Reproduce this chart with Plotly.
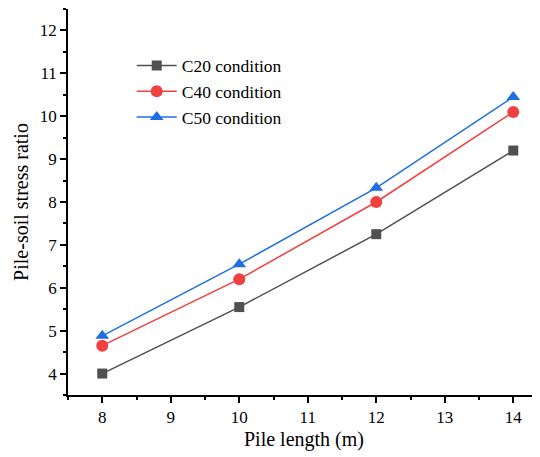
import plotly.graph_objects as go

pile_length = [8, 10, 12, 14]
c20 = [4.0, 5.55, 7.25, 9.2]
c40 = [4.65, 6.2, 8.0, 10.1]
c50 = [4.88, 6.55, 8.33, 10.45]
names = ["C20 condition", "C40 condition", "C50 condition"]

fig = go.Figure()
styles = [("#505050", "square", 10), ("#f04040", "circle", 12), ("#1f6fe2", "triangle-up", 12)]
for name, ys, (col, sym, sz) in zip(names, [c20, c40, c50], styles):
    fig.add_trace(go.Scatter(x=pile_length, y=ys, name=name, mode="lines+markers",
                             line=dict(color=col, width=1.5),
                             marker=dict(symbol=sym, size=sz, color=col)))

font = "Times New Roman, Liberation Serif, serif"
fig.update_layout(
    width=532, height=449,
    margin=dict(l=60, r=0, t=1, b=62, autoexpand=False),
    plot_bgcolor="white", paper_bgcolor="white",
    font=dict(family=font, color="black", size=17),
    showlegend=True,
    legend=dict(x=0.135, y=0.9, xanchor="left", yanchor="top",
                bgcolor="rgba(0,0,0,0)", font=dict(size=17.5, family=font),
                tracegroupgap=0, itemwidth=40),
)
fig.update_xaxes(range=[7.5, 14.39], tickmode="array", tickvals=[8, 9, 10, 11, 12, 13, 14],
                 showline=True, linecolor="black", linewidth=1.5, showgrid=False, zeroline=False,
                 ticks="outside", ticklen=6, tickwidth=1.5, tickcolor="black", automargin=False,
                 minor=dict(ticks="outside", ticklen=3, tickwidth=1.5, tickcolor="black", dtick=0.5, tick0=7.5),
                 title=dict(text="Pile length (m)", font=dict(size=20, family=font), standoff=6),
                 tickfont=dict(size=17, family=font))
fig.update_yaxes(range=[3.5, 12.5], tickmode="array", tickvals=[4, 5, 6, 7, 8, 9, 10, 11, 12],
                 showline=True, linecolor="black", linewidth=1.5, showgrid=False, zeroline=False,
                 ticks="outside", ticklen=6, tickwidth=1.5, tickcolor="black", automargin=False,
                 minor=dict(ticks="outside", ticklen=3, tickwidth=1.5, tickcolor="black", dtick=0.5, tick0=3.5),
                 title=dict(text="Pile-soil stress ratio", font=dict(size=20, family=font), standoff=6),
                 tickfont=dict(size=17, family=font))
fig.write_html("out.html")
